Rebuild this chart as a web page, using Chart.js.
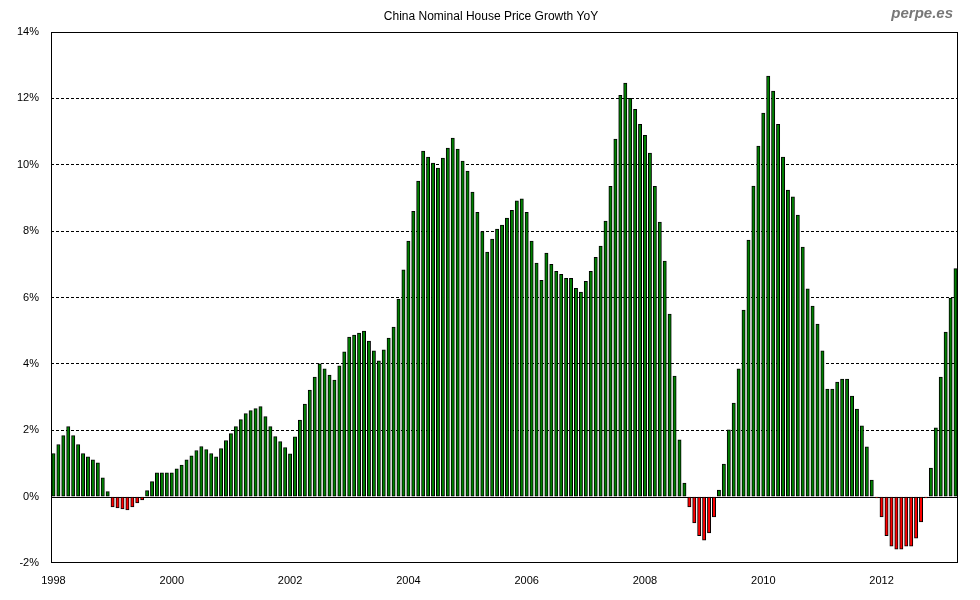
<!DOCTYPE html>
<html>
<head>
<meta charset="utf-8">
<script src="https://cdn.jsdelivr.net/npm/chart.js@4.4.0/dist/chart.umd.min.js"></script>
<style>
  html, body { margin: 0; padding: 0; background: #fff; }
  canvas { display: block; }
</style>
</head>
<body>
<canvas id="hpi-chart" width="980" height="600"></canvas>
<script>
// YoY growth in %, one value per month, Jan 1998 .. Apr 2013
var g1998 = [1.30, 1.57, 1.84, 2.11, 1.84, 1.57, 1.30, 1.20, 1.11, 1.02, 0.57, 0.15];
var g1999 = [-0.31, -0.34, -0.37, -0.40, -0.31, -0.19, -0.10, 0.18, 0.45, 0.72, 0.72, 0.72];
var g2000 = [0.72, 0.84, 0.95, 1.11, 1.23, 1.39, 1.51, 1.42, 1.30, 1.20, 1.45, 1.69];
var g2001 = [1.90, 2.11, 2.32, 2.50, 2.59, 2.65, 2.71, 2.41, 2.11, 1.81, 1.66, 1.48];
var g2002 = [1.29, 1.80, 2.31, 2.79, 3.21, 3.60, 4.00, 3.85, 3.66, 3.51, 3.94, 4.36];
var g2003 = [4.81, 4.87, 4.93, 4.99, 4.69, 4.39, 4.09, 4.42, 4.78, 5.11, 5.95, 6.83];
var g2004 = [7.70, 8.60, 9.51, 10.41, 10.23, 10.05, 9.90, 10.20, 10.50, 10.80, 10.47, 10.11];
var g2005 = [9.81, 9.18, 8.57, 7.99, 7.37, 7.76, 8.06, 8.18, 8.39, 8.63, 8.91, 8.97];
var g2006 = [8.57, 7.70, 7.04, 6.52, 7.34, 7.00, 6.79, 6.70, 6.58, 6.58, 6.28, 6.16];
var g2007 = [6.49, 6.79, 7.21, 7.55, 8.30, 9.35, 10.77, 12.09, 12.46, 12.00, 11.67, 11.22];
var g2008 = [10.89, 10.35, 9.35, 8.27, 7.10, 5.50, 3.63, 1.71, 0.41, -0.31, -0.79, -1.18];
var g2009 = [-1.31, -1.09, -0.61, 0.20, 0.98, 2.01, 2.82, 3.85, 5.62, 7.73, 9.36, 10.56];
var g2010 = [11.56, 12.67, 12.22, 11.22, 10.23, 9.24, 9.03, 8.48, 7.52, 6.26, 5.74, 5.20];
var g2011 = [4.39, 3.24, 3.24, 3.45, 3.54, 3.54, 3.03, 2.64, 2.13, 1.50, 0.50, -0.04];
var g2012 = [-0.61, -1.18, -1.49, -1.58, -1.58, -1.49, -1.49, -1.25, -0.76, -0.04, 0.86, 2.07];
var g2013 = [3.60, 4.96, 5.98, 6.87];

var tickYears = ["1998", "2000", "2002", "2004", "2006", "2008", "2010", "2012"];

var growth = [].concat(g1998, g1999, g2000, g2001, g2002, g2003, g2004, g2005,
  g2006, g2007, g2008, g2009, g2010, g2011, g2012, g2013);

var months = [];
for (var i = 0; i < growth.length; i++) {
  var yr = 1998 + Math.floor(i / 12);
  var mo = (i % 12) + 1;
  months.push(yr + "-" + (mo < 10 ? "0" + mo : mo));
}

var FONT = "'Liberation Sans', Arial, sans-serif";

var framePlugin = {
  id: "frame",
  beforeDatasetsDraw: function (chart) {
    var c = chart.ctx, a = chart.chartArea;
    var y0 = chart.scales.y.getPixelForValue(0);
    c.save();
    c.strokeStyle = "#000";
    c.lineWidth = 1;
    c.beginPath();
    c.moveTo(a.left, Math.round(y0) + 0.5);
    c.lineTo(a.right, Math.round(y0) + 0.5);
    c.stroke();
    c.restore();
  },
  afterDraw: function (chart) {
    var c = chart.ctx, a = chart.chartArea;
    c.save();
    c.strokeStyle = "#000";
    c.lineWidth = 1;
    c.strokeRect(Math.round(a.left) + 0.5, Math.round(a.top) + 0.5,
      Math.round(a.right - a.left) - 1, Math.round(a.bottom - a.top) - 1);
    c.fillStyle = "#000";
    c.font = "12px " + FONT;
    c.textAlign = "center";
    c.textBaseline = "middle";
    c.fillText("China Nominal House Price Growth YoY", 491, 17);
    c.fillStyle = "#777";
    c.font = "italic bold 15px " + FONT;
    c.textAlign = "right";
    c.fillText("perpe.es", 953, 14);
    c.restore();
  }
};

var ctx = document.getElementById("hpi-chart");
var chartData = {
  type: "bar",
  data: {
    labels: months,
    datasets: [
      {
        label: "YoY",
        data: growth,
        backgroundColor: growth.map(function (v) { return v < 0 ? "#ff0000" : "#008000"; }),
        borderColor: "#000",
        borderWidth: 1,
        borderSkipped: false,
        barThickness: 3.3,
      },
    ],
  },
  options: {
    responsive: false,
    animation: false,
    devicePixelRatio: 1,
    layout: { padding: { top: 32, right: 22, left: 0, bottom: 0 } },
    plugins: {
      legend: { display: false },
      tooltip: { enabled: false },
    },
    scales: {
      x: {
        type: "category",
        offset: true,
        grid: { display: false, drawTicks: false },
        border: { display: false },
        ticks: {
          autoSkip: false,
          maxRotation: 0,
          minRotation: 0,
          padding: 11,
          color: "#000",
          font: { family: FONT, size: 11 },
          callback: function (val, idx) {
            var lab = months[idx];
            if (lab.slice(5) === "01" && tickYears.indexOf(lab.slice(0, 4)) >= 0) return lab.slice(0, 4);
            return "";
          },
        },
        afterFit: function (scale) { scale.height = 37; },
      },
      y: {
        min: -2,
        max: 14,
        grid: {
          drawTicks: false,
          color: function (c) {
            var v = c.tick ? c.tick.value : null;
            return (v === 0 || v === -2 || v === 14) ? "rgba(0,0,0,0)" : "#000";
          },
          lineWidth: 1,
        },
        border: { display: false, dash: [3, 2] },
        ticks: {
          stepSize: 2,
          padding: 12,
          color: "#000",
          font: { family: FONT, size: 11 },
          callback: function (v) { return v + "%"; },
        },
        afterFit: function (scale) { scale.width = 51; },
      },
    },
  },
  plugins: [framePlugin],
};
var myChart = new Chart(ctx, chartData);
</script>
</body>
</html>
